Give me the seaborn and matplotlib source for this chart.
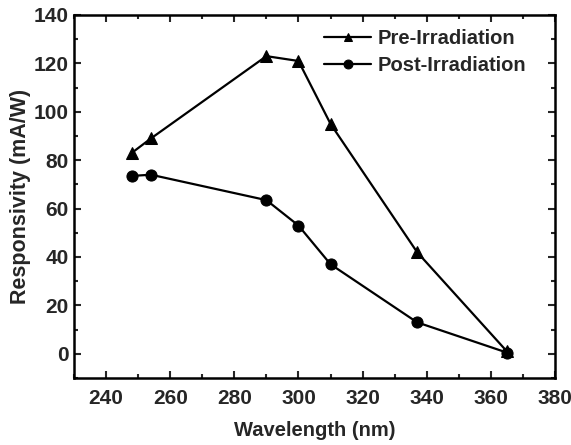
import matplotlib
matplotlib.use("Agg")
import matplotlib.pyplot as plt
import seaborn as sns
import pandas as pd
from matplotlib.ticker import MultipleLocator

wavelength = [248, 254, 290, 300, 310, 337, 365]
pre_irr = [83, 89, 123, 121, 95, 42, 1]
post_irr = [73.5, 74, 63.5, 53, 37, 13, 0.5]

sns.set_theme(style="ticks")
plt.rcParams['font.family'] = ['Liberation Sans', 'DejaVu Sans']
plt.rcParams['font.weight'] = 'bold'

df = pd.concat([
    pd.DataFrame({"Wavelength": wavelength, "Resp": pre_irr, "Series": "Pre-Irradiation"}),
    pd.DataFrame({"Wavelength": wavelength, "Resp": post_irr, "Series": "Post-Irradiation"}),
])

fig = plt.figure(figsize=(5.71, 4.45), dpi=100)
ax = fig.add_axes([74/571, 1-378/445, (555-74)/571, (378-15)/445])

sns.lineplot(data=df, x="Wavelength", y="Resp", hue="Series", style="Series",
             markers={"Pre-Irradiation": "^", "Post-Irradiation": "o"}, dashes=False,
             palette={"Pre-Irradiation": "black", "Post-Irradiation": "black"},
             markersize=8, linewidth=1.6, markeredgecolor="black", ax=ax)

ax.set_xlim(230, 380)
ax.set_ylim(-10, 140)
ax.xaxis.set_major_locator(MultipleLocator(20))
ax.xaxis.set_minor_locator(MultipleLocator(10))
ax.yaxis.set_major_locator(MultipleLocator(20))
ax.yaxis.set_minor_locator(MultipleLocator(10))
ax.tick_params(which="both", direction="in", top=True, right=True, width=1.5)
ax.tick_params(which="major", length=5, labelsize=15)
ax.tick_params(axis="x", which="major", pad=8)
ax.tick_params(axis="y", which="major", pad=4)
ax.tick_params(which="minor", length=3)
for lab in ax.get_xticklabels() + ax.get_yticklabels():
    lab.set_fontweight("bold")
for s in ax.spines.values():
    s.set_linewidth(1.8)
    s.set_color("black")
ax.set_xlabel("Wavelength (nm)", fontsize=14.5, fontweight="bold", labelpad=9)
ax.set_ylabel("Responsivity (mA/W)", fontsize=15.5, fontweight="bold", labelpad=2)

leg = ax.legend(loc="upper right", frameon=False, fontsize=14.5, handlelength=2.3,
                borderaxespad=0.3, handletextpad=0.35, labelspacing=0.4,
                markerscale=0.8, bbox_to_anchor=(0.97, 1.0))
for t in leg.get_texts():
    t.set_fontweight("bold")

fig.savefig("out.png", dpi=100)
